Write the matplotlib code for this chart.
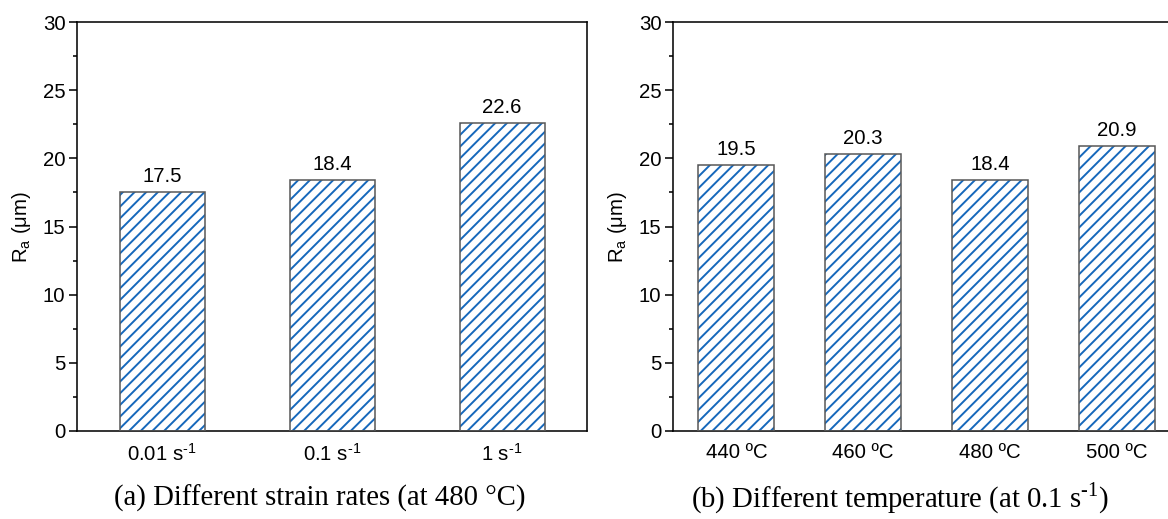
import matplotlib
matplotlib.use('Agg')
import matplotlib.pyplot as plt
from matplotlib.ticker import MultipleLocator

plt.rcParams['font.family'] = ['Liberation Sans', 'DejaVu Sans']
plt.rcParams['hatch.linewidth'] = 1.0
plt.rcParams['axes.unicode_minus'] = False

# hyphen (not minus) in the superscripts, as in the original
SUP = '$^{\\mathregular{\u2010' + '1}}$'

# (a) strain rates at 480 C
rate_labels = ['0.01 s' + SUP, '0.1 s' + SUP, '1 s' + SUP]
rate_ra = [17.5, 18.4, 22.6]

# (b) temperatures at 0.1 s^-1
temp_labels = ['440 ºC', '460 ºC', '480 ºC', '500 ºC']
temp_ra = [19.5, 20.3, 18.4, 20.9]

W, H = 1168, 519
DPI = 140
fig = plt.figure(figsize=(W / DPI, H / DPI), dpi=DPI)

hatch_blue = '#1668bb'
edge_grey = '#5a5a5a'


def panel(ax, labels, vals, width, xlim):
    x = list(range(len(vals)))
    # hatch layer, then outline layer (keeps hatch blue, edge grey)
    ax.bar(x, vals, width=width, color='white', edgecolor=hatch_blue,
           hatch='////', linewidth=0, zorder=2)
    ax.bar(x, vals, width=width, color='none', edgecolor=edge_grey,
           linewidth=0.8, zorder=3)
    for xi, v in zip(x, vals):
        ax.text(xi, v + 0.45, f'{v:.1f}', ha='center', va='bottom', fontsize=10.5)
    ax.set_xlim(*xlim)
    ax.set_ylim(0, 30)
    ax.set_xticks(x)
    ax.set_xticklabels(labels, fontsize=10.5)
    ax.yaxis.set_major_locator(MultipleLocator(5))
    ax.yaxis.set_minor_locator(MultipleLocator(2.5))
    ax.tick_params(axis='y', which='major', direction='out', length=4, width=0.8, labelsize=10.5, pad=2)
    ax.tick_params(axis='y', which='minor', direction='out', length=2.2, width=0.8)
    ax.tick_params(axis='x', length=0, pad=6)
    ax.tick_params(axis='y', right=False)
    for s in ax.spines.values():
        s.set_linewidth(0.8)
    ax.set_ylabel('R$_{\\mathregular{a}}$ (μm)', fontsize=10.5, labelpad=5)


ax1 = fig.add_axes([77 / W, 1 - 431 / H, 510 / W, 409 / H])
panel(ax1, rate_labels, rate_ra, 0.5, (-0.5, 2.5))

ax2 = fig.add_axes([673 / W, 1 - 431 / H, 507 / W, 409 / H])
panel(ax2, temp_labels, temp_ra, 0.6, (-0.5, 3.5))

fig.text(320 / W, 1 - 498 / H, '(a) Different strain rates (at 480 °C)',
         family='Liberation Serif', fontsize=14.8, ha='center', va='center')
fig.text(900 / W, 1 - 498 / H, '(b) Different temperature (at 0.1 s' + SUP + ')',
         family='Liberation Serif', fontsize=14.8, ha='center', va='center')

fig.savefig('out.png', dpi=DPI)
